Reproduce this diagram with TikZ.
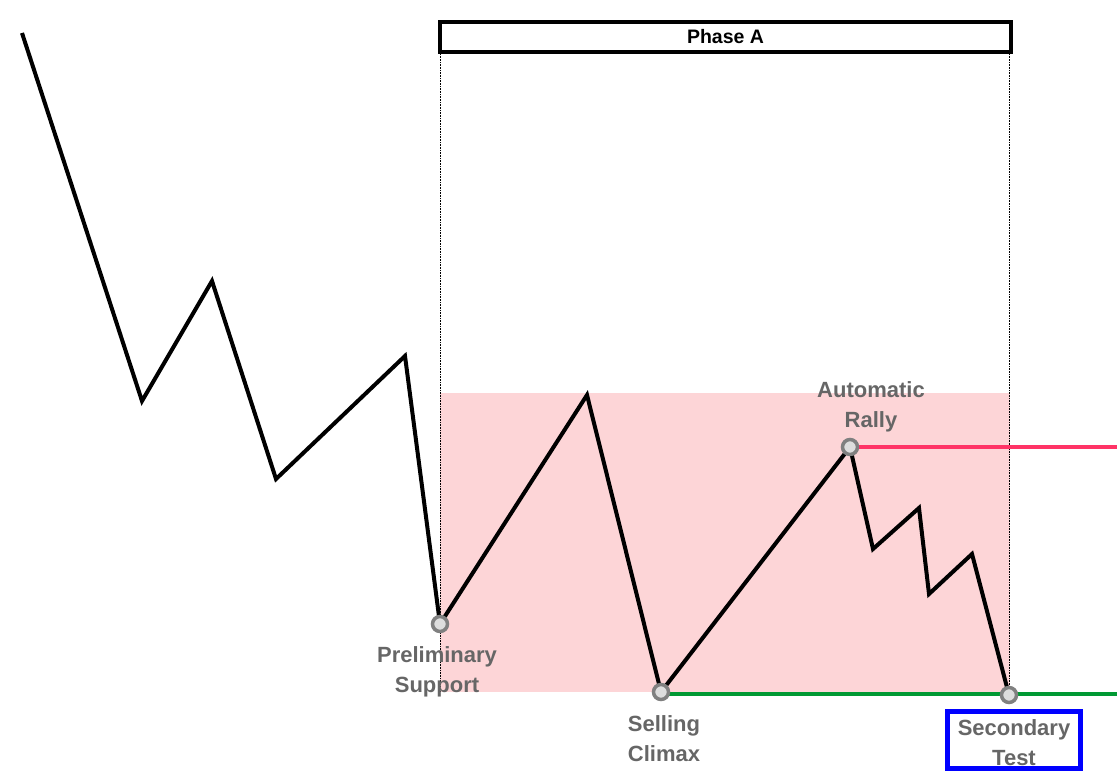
\documentclass[tikz,border=0pt]{standalone}
\usepackage{fontspec}
\setmainfont{Liberation Sans}
\usetikzlibrary{positioning}
\definecolor{zonepink}{HTML}{FDD5D7}
\definecolor{resist}{HTML}{FF3366}
\definecolor{support}{HTML}{009933}
\definecolor{lblgray}{HTML}{666666}
\definecolor{dotgray}{HTML}{808080}
\definecolor{dotfill}{HTML}{DDDDDD}
\tikzset{
  price/.style={line width=4pt,line join=miter},
  event/.style={circle,draw=dotgray,fill=dotfill,line width=3.5pt,inner sep=0pt,minimum size=15pt},
  evlabel/.style={text=lblgray,font=\bfseries\fontsize{22}{30}\selectfont,align=center,inner sep=0pt},
}

\begin{document}
\begin{tikzpicture}[x=1pt,y=-1pt]
      \useasboundingbox (0,0) rectangle (1117,783);
      % trading range
      \fill[zonepink] (440,393) rectangle (1010,692);
      \node[draw,line width=4pt,minimum width=571pt,minimum height=30pt,inner sep=0pt,
            font=\bfseries\fontsize{19.5}{20}\selectfont] (PA) at (725.5,37) {Phase A};
      % swing points
      \coordinate (a) at (22,33);
      \coordinate (b) at (142,401);
      \coordinate (c) at (212,281);
      \coordinate (d) at (276,479);
      \coordinate (e) at (405,356);
      \coordinate (PS) at (440,624);
      \coordinate (f) at (587,395);
      \coordinate (SC) at (661,692);
      \coordinate (AR) at (850,447);
      \coordinate (g) at (873,549);
      \coordinate (h) at (919,508);
      \coordinate (i) at (929,594);
      \coordinate (j) at (972,554);
      \coordinate (ST) at (1009,695);
      \coordinate (resEnd) at (1117,447);
      \coordinate (supEnd) at (1117,694);
      \draw[densely dotted,line width=0.6pt] (PA.south -| PS) -- (PS |- SC);
      \draw[densely dotted,line width=0.6pt] (PA.south -| ST) -- (ST);
      \draw[price] (a) -- (b) -- (c) -- (d) -- (e) -- (PS) -- (f) -- (SC) -- (AR)
            -- (g) -- (h) -- (i) -- (j) -- (ST);
      \draw[resist,line width=3.5pt] (AR) -- (resEnd);
      \draw[support,line width=3.5pt] (SC |- supEnd) -- (supEnd);
      \node[event] (psDot) at (PS) {};
      \node[event] (scDot) at (SC) {};
      \node[event] (arDot) at (AR) {};
      \node[event] (stDot) at (ST) {};
      \node[evlabel] (psLbl) at (437,672) {Preliminary\\Support};
      \node[evlabel] (scLbl) at (664,739) {Selling\\Climax};
      \node[evlabel] (arLbl) at (871,407) {Automatic\\Rally};
      \node[draw=blue,line width=5pt,minimum width=133pt,minimum height=57pt,inner sep=0pt] (stBox) at (1014,740) {};
      \node[evlabel,yshift=-3pt] (stLbl) at (stBox) {Secondary\\Test};
\end{tikzpicture}
\end{document}
